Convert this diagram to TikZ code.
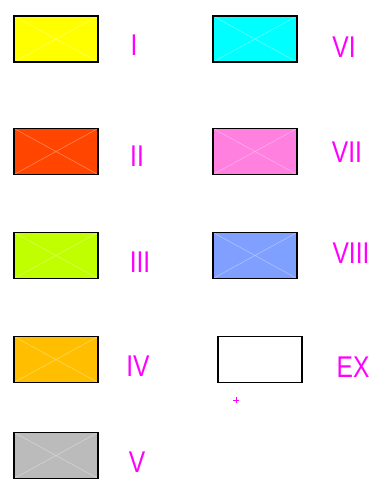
\documentclass[tikz,border=0pt]{standalone}
\usepackage{fontspec}
\setmainfont{Liberation Sans}
\definecolor{cI}{HTML}{FFFF00}
\definecolor{cII}{HTML}{FF4500}
\definecolor{cIII}{HTML}{C0FF00}
\definecolor{cIV}{HTML}{FFBF00}
\definecolor{cV}{HTML}{BBBBBB}
\definecolor{cVI}{HTML}{00FFFF}
\definecolor{cVII}{HTML}{FF80DF}
\definecolor{cVIII}{HTML}{80A0FF}
\definecolor{lab}{HTML}{FF00FF}
\tikzset{
  swatch/.style={draw=black, line width=1.6pt, minimum width=84pt, minimum height=46pt, inner sep=0pt, outer sep=0pt, anchor=north west},
  lbl/.style={text=lab, font=\fontsize{30}{30}\selectfont, inner sep=0pt, xscale=0.82},
  cross/.style={draw=white, opacity=0.35, line width=0.6pt}
}
\newcommand{\swatchbox}[4]{%
  \node[swatch, fill=#4] (#1) at (#2,#3) {};
  \draw[cross] (#1.north west) -- (#1.south east) (#1.south west) -- (#1.north east);
  \draw[black, line width=1.6pt] (#1.north west) rectangle (#1.south east);
}
\begin{document}
\begin{tikzpicture}[x=1pt,y=-1pt]
\fill[white] (0,0) rectangle (382,484);
\useasboundingbox (0,0) rectangle (382,484);
\swatchbox{bI}{14}{16}{cI}
\swatchbox{bII}{14}{128.5}{cII}
\swatchbox{bIII}{14}{232.5}{cIII}
\swatchbox{bIV}{14}{336.5}{cIV}
\swatchbox{bV}{14}{432.5}{cV}
\swatchbox{bVI}{213}{16}{cVI}
\swatchbox{bVII}{213}{128.5}{cVII}
\swatchbox{bVIII}{213}{232.5}{cVIII}
\node[swatch, fill=white] (bEX) at (218,336.5) {};
\node[lbl] (lI) at (134,45) {I};
\node[lbl] (lII) at (137,156) {II};
\node[lbl] (lIII) at (140,262) {III};
\node[lbl] (lIV) at (138,366) {IV};
\node[lbl] (lV) at (137,462) {V};
\node[lbl] (lVI) at (344,47) {VI};
\node[lbl] (lVII) at (347,152) {VII};
\node[lbl] (lVIII) at (351,253) {VIII};
\node[lbl] (lEX) at (353,367) {EX};
\coordinate (plus) at (236,400);
\draw[lab, line width=0.7pt] (plus) +(-3,0) -- +(3,0) (plus) +(0,-3) -- +(0,3);
\end{tikzpicture}
\end{document}
